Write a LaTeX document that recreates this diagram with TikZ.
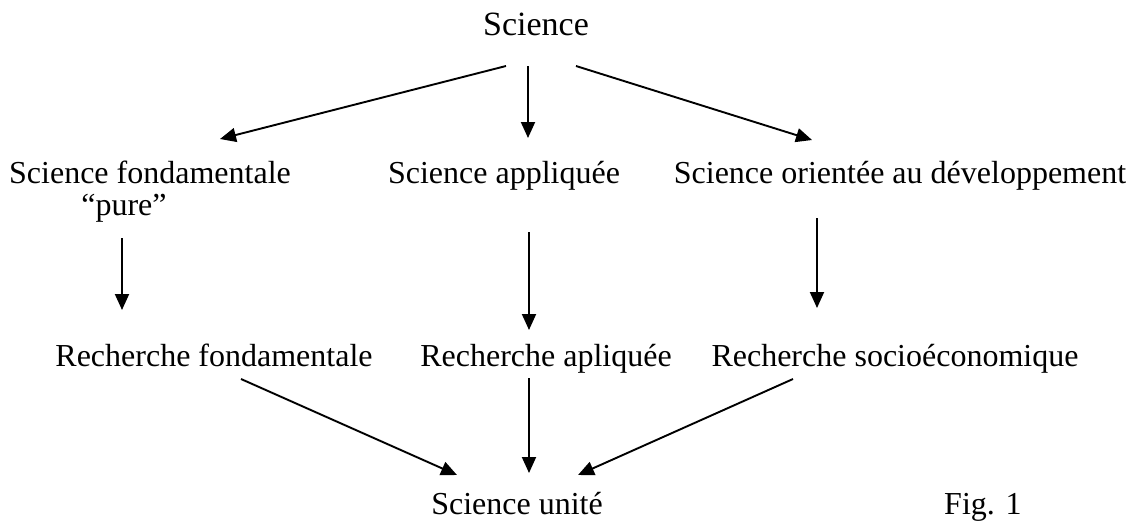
\documentclass[tikz,border=0pt]{standalone}
\usepackage{fontspec}
\setmainfont{Liberation Serif}
\usetikzlibrary{arrows.meta}
\begin{document}
\begin{tikzpicture}[x=1pt,y=-1pt,
  lbl/.style={anchor=base,inner sep=0pt,font=\fontsize{32}{38}\selectfont},
  arr/.style={line width=1.9pt,-{Triangle[length=16pt,width=14pt]}}]
\useasboundingbox (0,0) rectangle (1135,520);
% texts
\node[lbl,font=\fontsize{34}{40}\selectfont] (sci) at (536,35) {Science};
\node[lbl] (sf)   at (150,183) {Science fondamentale};
\node[lbl] (pure) at (124,215) {``pure''};
\node[lbl] (sa)   at (504,183) {Science appliquée};
\node[lbl] (sd)   at (900,183) {Science orientée au développement};
\node[lbl] (rf)   at (214,366) {Recherche fondamentale};
\node[lbl] (ra)   at (546,366) {Recherche apliquée};
\node[lbl] (rs)   at (895,366) {Recherche socioéconomique};
\node[lbl] (su)   at (517,514) {Science unité};
\node[lbl,anchor=base west] (fig) at (944,514) {Fig. 1};
% connector end points
\coordinate (a1) at (506,66);  \coordinate (a2) at (220,139);
\coordinate (b1) at (528,66);  \coordinate (b2) at (528,138);
\coordinate (c1) at (576,66);  \coordinate (c2) at (812,140);
\coordinate (d1) at (122,238); \coordinate (d2) at (122,310);
\coordinate (e1) at (529,232); \coordinate (e2) at (529,330);
\coordinate (f1) at (817,218); \coordinate (f2) at (817,308);
\coordinate (g1) at (241,379); \coordinate (g2) at (457,475);
\coordinate (h1) at (529,378); \coordinate (h2) at (529,473);
\coordinate (i1) at (793,379); \coordinate (i2) at (578,475);
% connectors
\draw[arr] (a1) -- (a2);
\draw[arr] (b1) -- (b2);
\draw[arr] (c1) -- (c2);
\draw[arr] (d1) -- (d2);
\draw[arr] (e1) -- (e2);
\draw[arr] (f1) -- (f2);
\draw[arr] (g1) -- (g2);
\draw[arr] (h1) -- (h2);
\draw[arr] (i1) -- (i2);
\end{tikzpicture}
\end{document}
